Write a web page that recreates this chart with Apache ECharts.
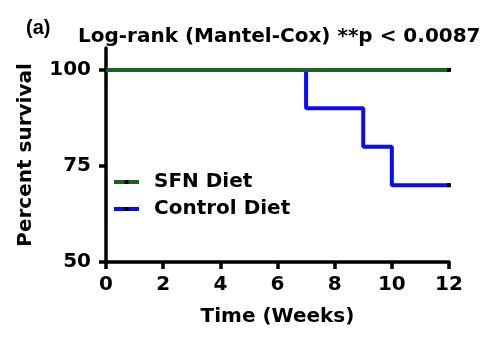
<!DOCTYPE html>
<html>
<head>
<meta charset="utf-8">
<script src="https://cdn.jsdelivr.net/npm/echarts@6/dist/echarts.min.js"></script>
<style>html,body{margin:0;padding:0;background:#fff;}#c{width:497px;height:345px;}</style>
</head>
<body>
<div id="c"></div>
<script>
const seriesNames = ['SFN Diet', 'Control Diet'];
const sfnWeeks = [0, 12];
const sfnSurvival = [100, 100];
const controlWeeks = [0, 7, 9, 10, 12];
const controlSurvival = [100, 90, 80, 70, 70];
const yTicks = [50, 75, 100];
const titleText = 'Log-rank (Mantel-Cox) **p < 0.0087';
const panelLabel = '(a)';

const FONT = 'DejaVu Sans';
function toData(xs, ys) {
  return xs.map((x, i) => i === xs.length - 1
    ? { value: [x, ys[i]] }
    : { value: [x, ys[i]], symbol: 'none' });
}
const chart = echarts.init(document.getElementById('c'), null, { renderer: 'canvas' });
chart.setOption({
  animation: false,
  backgroundColor: '#fff',
  title: [
    { text: titleText, left: 73, top: 22, padding: 5, textStyle: { fontFamily: FONT, fontWeight: 'bold', fontSize: 20, color: '#000' } },
    { text: panelLabel, left: 21, top: 13, padding: 5, textStyle: { fontFamily: 'Liberation Sans', fontWeight: 'bold', fontSize: 20, color: '#000' } }
  ],
  legend: {
    data: seriesNames,
    orient: 'vertical',
    left: 107,
    top: 167,
    itemWidth: 25,
    itemHeight: 5,
    itemGap: 7,
    lineStyle: { width: 4 },
    textStyle: { fontFamily: FONT, fontWeight: 'bold', fontSize: 20, color: '#000', padding: [0, 0, 0, 10], lineHeight: 20 }
  },
  grid: { left: 106, right: 48, top: 48, bottom: 83, containLabel: false },
  xAxis: {
    type: 'value', min: 0, max: 12, interval: 2,
    name: 'Time (Weeks)', nameLocation: 'middle', nameGap: 45,
    nameTextStyle: { fontFamily: FONT, fontWeight: 'bold', fontSize: 20, color: '#000' },
    axisLine: { show: true, lineStyle: { color: '#000', width: 3.5 } },
    axisTick: { show: true, length: 7, lineStyle: { color: '#000', width: 3.5 } },
    axisLabel: { fontFamily: FONT, fontWeight: 'bold', fontSize: 20, color: '#000', margin: 13 },
    splitLine: { show: false }
  },
  yAxis: {
    type: 'value', min: 50, max: 105.7,
    name: 'Percent survival', nameLocation: 'middle', nameGap: 70, nameRotate: 90,
    nameTextStyle: { fontFamily: FONT, fontWeight: 'bold', fontSize: 20, color: '#000' },
    axisLine: { show: true, lineStyle: { color: '#000', width: 3.5 } },
    axisTick: { show: true, length: 7, customValues: yTicks, lineStyle: { color: '#000', width: 3.5 } },
    axisLabel: { fontFamily: FONT, fontWeight: 'bold', fontSize: 20, color: '#000', margin: 15, customValues: yTicks },
    splitLine: { show: false }
  },
  series: [
    {
      name: 'Control Diet', type: 'line', step: 'end',
      data: toData(controlWeeks, controlSurvival),
      symbol: 'rect', symbolSize: 4,
      lineStyle: { color: '#0a0af5', width: 4 },
      itemStyle: { color: '#000' },
      z: 2
    },
    {
      name: 'SFN Diet', type: 'line', step: 'end',
      data: toData(sfnWeeks, sfnSurvival),
      symbol: 'rect', symbolSize: 4,
      lineStyle: { color: '#1c631c', width: 4 },
      itemStyle: { color: '#000' },
      z: 3
    }
  ]
});
</script>
</body>
</html>
